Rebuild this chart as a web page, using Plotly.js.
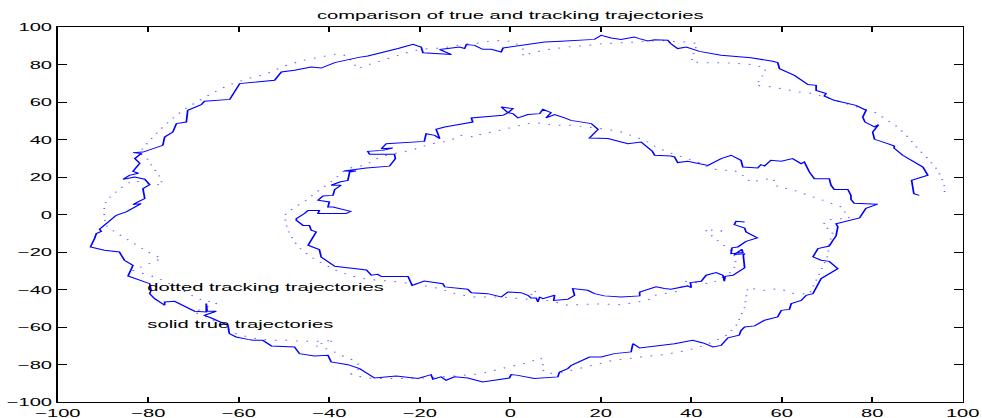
<!DOCTYPE html>
<html>
<head>
<meta charset="utf-8">
<script src="https://cdn.plot.ly/plotly-3.0.1.min.js"></script>
<style>
html,body{margin:0;padding:0;overflow:hidden;background:#fff;width:982px;height:418px}
#wrap{width:560px;height:418px;transform:scale(1.753571,1);transform-origin:0 0}
</style>
</head>
<body>
<div id="wrap"><div id="chart"></div></div>
<script>
// true trajectory [x, y]
const truePath = [
[90.4,10.2],[89.2,11.1],[88.7,18.2],[90.1,19.1],[92.3,20.9],[91.2,25.3],[88.0,29.8],[86.75,31.6],[84.8,35.5],[84.9,36.5],
[83.4,37.8],[80.5,40.1],[80.1,44.0],[81.4,47.9],[80.5,46.7],[78.4,49.3],[77.9,52.0],[78.65,55.6],[76.4,58.2],[71.6,60.9],
[69.4,63.2],[69.8,64.5],[67.6,66.2],[67.6,68.9],[65.8,69.3],[62.8,74.2],[59.5,77.8],[59.1,81.0],[58.0,81.7],[53.2,83.6],
[46.6,84.9],[41.8,87.0],[38.9,89.3],[37.0,88.5],[35.5,91.1],[34.8,92.9],[31.9,93.2],[30.4,92.5],[28.5,93.8],[27.4,94.7],
[24.5,93.4],[22.3,94.1],[20.1,95.6],[18.6,93.4],[11.2,92.4],[7.6,92.0],[-1.6,88.8],[-2.0,86.7],[-4.2,88.1],[-6.1,88.1],
[-7.9,90.2],[-9.7,90.6],[-10.1,88.5],[-11.2,89.3],[-13.8,88.5],[-15.6,88.0],[-13.0,85.3],[-19.3,86.3],[-19.7,89.3],[-21.5,90.8],
[-24.8,88.5],[-27.1,87.0],[-31.5,84.5],[-33.5,83.8],[-38.8,81.0],[-41.8,78.1],[-44.0,78.7],[-47.7,76.9],[-50.6,76.0],[-52.1,71.6],
[-59.8,69.8],[-61.0,65.3],[-62.0,61.4],[-67.6,60.4],[-68.3,58.6],[-71.3,55.6],[-71.6,49.3],[-73.8,48.5],[-74.6,44.0],[-76.4,41.3],
[-76.8,36.9],[-81.2,33.3],[-83.4,33.0],[-81.6,32.5],[-83.0,29.8],[-81.9,27.3],[-83.4,23.0],[-82.2,22.0],[-84.2,20.9],[-85.6,18.8],
[-83.0,20.0],[-80.8,18.8],[-79.7,15.9],[-81.2,13.8],[-80.8,8.5],[-82.3,6.7],[-83.4,5.3],[-81.6,5.8],[-83.0,4.0],[-84.9,1.4],
[-87.1,-0.4],[-89.7,-5.8],[-90.8,-7.9],[-90.4,-9.0],[-91.5,-10.2],[-91.9,-12.9],[-92.8,-17.3],[-89.7,-19.1],[-86.4,-20.0],[-85.3,-24.4],
[-83.4,-27.1],[-84.5,-32.8],[-79.7,-36.9],[-79.4,-40.4],[-79.7,-42.2],[-78.6,-44.9],[-76.4,-48.4],[-76.4,-46.6],[-74.2,-46.3],[-69.8,-51.6],
[-67.2,-52.0],[-67.2,-47.5],[-67.0,-51.6],[-65.0,-51.6],[-67.6,-53.8],[-66.1,-55.2],[-62.4,-59.1],[-62.1,-63.5],[-60.6,-65.3],[-58.0,-66.6],
[-56.9,-67.1],[-54.7,-67.1],[-52.8,-70.1],[-47.7,-70.6],[-46.6,-74.2],[-43.3,-75.4],[-40.3,-75.1],[-39.6,-78.6],[-35.9,-80.1],[-33.3,-82.2],
[-30.0,-87.2],[-25.2,-86.1],[-20.4,-87.5],[-17.5,-85.4],[-17.1,-87.9],[-15.3,-86.6],[-14.2,-88.4],[-12.3,-86.6],[-9.4,-87.2],[-6.1,-89.3],
[-0.2,-87.2],[0.2,-85.4],[1.7,-85.8],[5.3,-87.5],[10.5,-86.6],[10.9,-84.0],[12.7,-82.2],[13.5,-80.4],[16.4,-76.9],[17.5,-76.0],
[20.1,-76.0],[23.0,-74.2],[26.7,-73.3],[27.1,-68.9],[28.6,-71.2],[34.1,-69.8],[36.3,-68.9],[40.3,-67.1],[42.6,-68.5],[44.8,-70.6],
[46.6,-69.8],[48.1,-65.8],[50.6,-64.4],[51.0,-61.8],[51.8,-60.0],[54.0,-59.4],[56.2,-56.4],[59.1,-54.6],[59.9,-51.1],[61.7,-50.6],
[62.1,-47.5],[64.3,-45.8],[65.4,-43.1],[66.9,-42.2],[68.0,-37.8],[68.7,-34.2],[72.4,-28.9],[70.5,-25.0],[68.7,-24.4],[66.9,-22.6],
[68.0,-18.2],[70.5,-16.8],[71.3,-13.8],[72.0,-11.4],[72.4,-6.6],[72.0,-4.9],[77.2,-1.8],[77.9,1.4],[78.6,3.3],[81.2,5.5],
[76.0,6.0],[75.3,8.0],[75.3,10.2],[74.6,13.4],[71.6,13.4],[70.9,15.6],[70.5,19.1],[67.2,19.1],[66.1,22.7],[65.0,28.0],
[64.3,27.1],[62.4,29.8],[59.9,28.4],[57.6,28.9],[56.2,25.9],[55.4,26.6],[54.7,24.8],[51.4,25.3],[51.0,28.9],[48.8,31.6],
[46.6,29.8],[43.7,26.2],[40.0,27.7],[39.2,28.4],[37.0,27.7],[36.3,30.7],[35.5,31.2],[31.9,31.6],[31.4,33.7],[30.4,36.0],
[28.9,38.7],[26.0,37.8],[23.8,39.0],[21.6,40.5],[17.5,40.8],[19.4,45.4],[17.9,48.5],[14.6,49.7],[13.4,50.2],[12.0,51.5],
[9.8,53.3],[7.9,51.5],[9.0,54.3],[7.2,56.1],[6.5,53.8],[3.9,53.3],[1.7,51.5],[0.6,53.8],[-0.5,54.3],[0.6,56.5],
[-2.0,57.3],[-0.5,54.3],[-1.6,52.9],[-8.6,51.5],[-8.3,49.3],[-12.3,47.6],[-14.5,46.7],[-16.4,45.4],[-15.6,40.5],[-16.7,42.2],
[-18.6,43.1],[-19.0,39.0],[-24.1,38.3],[-27.4,37.8],[-28.5,35.1],[-26.0,35.5],[-28.2,34.2],[-31.5,33.7],[-31.1,32.1],[-25.6,32.1],
[-25.4,29.8],[-26.7,25.8],[-31.8,24.8],[-34.4,24.0],[-36.8,23.2],[-34.1,23.2],[-35.5,22.7],[-35.9,18.2],[-37.7,17.3],[-39.6,15.6],
[-37.4,15.6],[-38.8,13.4],[-39.2,10.2],[-41.4,9.9],[-42.5,7.6],[-40.0,6.7],[-40.3,4.0],[-39.2,4.0],[-35.3,1.7],[-36.3,0.5],
[-39.6,0.5],[-42.5,0.5],[-42.2,2.2],[-44.7,2.2],[-45.5,0.5],[-47.3,-2.2],[-47.3,-3.1],[-45.8,-5.8],[-44.4,-5.8],[-44.0,-8.4],
[-42.9,-9.3],[-43.6,-12.0],[-44.0,-14.6],[-44.7,-16.4],[-42.2,-18.7],[-41.8,-22.7],[-38.8,-27.6],[-34.1,-28.9],[-31.8,-29.6],[-30.7,-32.4],
[-29.3,-31.9],[-28.5,-33.1],[-23.4,-33.3],[-22.6,-33.0],[-21.7,-37.8],[-19.0,-35.5],[-14.9,-36.9],[-14.5,-38.6],[-9.4,-39.9],[-8.6,-41.7],
[-5.0,-42.2],[-2.0,-44.0],[-0.5,-41.3],[2.4,-41.7],[3.9,-43.1],[4.6,-44.5],[5.7,-44.5],[6.1,-46.6],[6.5,-44.0],[7.2,-44.9],
[9.8,-43.1],[9.6,-45.8],[12.7,-45.2],[14.2,-43.1],[13.8,-39.5],[17.1,-40.4],[18.6,-42.2],[20.8,-43.4],[24.5,-44.0],[28.6,-43.4],
[28.6,-41.3],[29.7,-40.4],[32.2,-38.6],[34.1,-39.5],[35.5,-39.9],[39.2,-38.1],[40.0,-39.0],[39.8,-36.3],[42.2,-35.6],[43.3,-32.4],
[45.5,-31.0],[47.0,-32.4],[47.3,-35.6],[47.5,-33.0],[49.2,-32.4],[51.8,-28.5],[51.5,-21.8],[51.8,-20.9],[49.5,-21.4],[51.2,-18.6],
[51.4,-20.3],[48.8,-20.9],[49.0,-17.8],[50.3,-17.3],[52.1,-14.3],[54.6,-12.5],[52.1,-9.3],[51.8,-7.2],[49.5,-5.4],[49.9,-3.6],
[51.8,-4.0]
];

// tracking (estimated) trajectory [x, y]
const trackPath = [
[96.0,12.0],[96.0,14.7],[95.4,19.1],[94.5,23.6],[92.3,29.8],[90.1,35.1],[87.9,41.3],[85.6,46.7],[83.4,50.2],[80.5,54.7],
[76.5,57.5],[72.5,60.5],[69.8,62.7],[66.9,64.5],[63.9,65.3],[60.5,67.0],[58.0,68.0],[54.3,68.9],[55.1,71.6],[55.8,74.2],
[56.5,77.8],[54.0,79.9],[50.3,80.5],[47.3,81.0],[42.9,81.0],[40.0,81.3],[40.3,84.0],[40.6,86.7],[41.4,91.1],[39.2,92.0],
[37.4,92.0],[33.0,92.9],[28.2,92.0],[24.5,91.7],[20.1,91.1],[17.1,90.2],[12.4,89.3],[7.2,87.6],[4.3,85.8],[2.8,84.4],
[3.1,87.6],[0.9,92.0],[-2.0,92.9],[-4.2,92.4],[-6.1,92.0],[-7.9,91.1],[-10.1,91.1],[-12.3,89.9],[-15.3,88.8],[-17.5,88.5],
[-19.7,88.1],[-21.9,87.0],[-24.8,84.9],[-27.1,83.1],[-30.0,81.3],[-31.8,79.6],[-33.7,77.8],[-36.0,84.5],[-38.1,85.8],[-42.2,84.0],
[-45.8,82.2],[-49.9,79.2],[-54.3,74.6],[-58.0,72.5],[-62.4,68.9],[-65.4,65.3],[-68.7,60.9],[-71.3,57.3],[-73.8,52.9],[-76.4,47.6],
[-79.0,41.3],[-81.2,35.5],[-81.9,32.5],[-80.5,30.7],[-79.5,27.0],[-78.3,23.0],[-77.3,19.5],[-76.9,15.6],[-83.5,18.0],[-86.2,14.0],
[-88.4,9.5],[-89.7,5.5],[-89.8,1.0],[-89.5,-5.5],[-87.3,-9.5],[-84.5,-13.5],[-81.9,-17.3],[-79.5,-20.8],[-77.0,-23.4],[-83.4,-29.8],
[-81.2,-31.5],[-78.6,-33.3],[-76.4,-35.6],[-73.8,-38.6],[-70.5,-43.1],[-68.7,-44.9],[-67.2,-46.7],[-65.7,-45.8],[-65.0,-47.5],[-70.0,-52.0],
[-67.9,-53.8],[-65.7,-56.4],[-62.4,-61.2],[-60.6,-63.5],[-58.0,-65.3],[-55.1,-66.6],[-52.1,-67.1],[-49.2,-67.1],[-46.2,-67.6],[-42.5,-67.6],
[-38.8,-67.1],[-43.3,-69.8],[-39.6,-72.4],[-37.4,-75.1],[-35.2,-77.2],[-33.7,-79.5],[-33.3,-82.2],[-35.2,-84.9],[-34.4,-86.1],[-32.2,-86.6],
[-30.0,-87.5],[-24.1,-87.5],[-18.2,-87.2],[-12.3,-86.1],[-6.4,-84.9],[-2.0,-82.2],[3.1,-79.5],[6.8,-76.5],[7.2,-79.5],[7.2,-83.0],
[8.3,-84.9],[12.0,-84.0],[17.1,-81.0],[22.7,-77.8],[28.9,-76.0],[34.1,-74.7],[39.2,-72.4],[42.9,-69.8],[45.5,-67.1],[47.7,-64.5],
[49.9,-59.5],[51.0,-54.5],[51.8,-49.5],[52.1,-44.5],[52.5,-39.0],[55.8,-40.5],[59.5,-39.5],[62.4,-42.0],[66.1,-42.5],[69.4,-26.2],
[70.2,-21.8],[70.5,-15.5],[71.3,-9.3],[69.1,-5.8],[69.8,-3.1],[72.0,-2.2],[75.0,-2.2],[74.2,0.5],[73.1,4.0],[70.2,6.7],
[68.0,8.5],[65.8,10.2],[62.1,13.4],[59.1,14.7],[58.0,19.5],[55.4,18.2],[52.9,17.3],[52.5,19.1],[49.5,23.6],[46.6,23.6],
[44.4,24.5],[41.4,28.0],[39.2,29.8],[37.4,31.5],[34.5,33.5],[31.9,36.5],[29.7,39.6],[24.5,44.0],[21.6,45.4],[17.1,46.7],
[13.4,47.6],[9.8,47.6],[5.7,49.0],[3.9,48.5],[0.6,46.7],[-2.0,45.0],[-3.9,44.0],[-6.4,43.1],[-7.5,41.3],[-10.9,42.2],
[-12.3,40.5],[-15.3,38.3],[-17.5,37.8],[-19.7,36.0],[-21.9,34.2],[-24.1,33.3],[-27.4,31.6],[-29.3,30.1],[-30.7,28.0],[-32.2,26.2],
[-34.8,25.3],[-37.0,22.7],[-39.2,18.2],[-41.4,14.7],[-43.3,11.1],[-45.1,7.6],[-47.3,4.0],[-49.2,1.4],[-49.9,-0.5],[-49.5,-5.8],
[-48.8,-10.2],[-47.7,-14.6],[-46.2,-18.7],[-44.0,-22.7],[-41.4,-26.2],[-38.5,-29.8],[-34.8,-33.0],[-31.1,-34.7],[-26.7,-35.5],[-21.5,-36.9],
[-15.6,-39.5],[-11.6,-42.7],[-7.9,-44.0],[-2.0,-44.0],[3.9,-45.2],[5.3,-40.4],[6.8,-45.2],[9.8,-46.6],[12.7,-48.4],[18.6,-47.7],
[24.5,-48.1],[30.4,-45.8],[31.9,-43.1],[34.8,-41.7],[37.0,-41.0],[38.9,-35.6],[40.7,-36.3],[44.4,-36.9],[48.4,-31.5],[49.9,-27.1],
[49.7,-23.5],[49.2,-20.0],[47.7,-17.3],[46.2,-14.6],[44.8,-12.0],[43.7,-9.3],[42.9,-7.9],[44.8,-8.4],[46.6,-9.0],[47.0,-6.6]
];

const xTicks = [-100,-80,-60,-40,-20,0,20,40,60,80,100];
const yTicks = [-100,-80,-60,-40,-20,0,20,40,60,80,100];
const titleText = 'comparison of true and tracking trajectories';
const labelTexts = ['dotted tracking trajectories', 'solid true trajectories'];
const labelPos = [[-80,-40],[-80,-60]];

const FONT = 'Liberation Sans, Arial, Helvetica, sans-serif';
const FS = 11.5;

const traces = [
  {x: truePath.map(p=>p[0]), y: truePath.map(p=>p[1]), mode:'lines', type:'scatter',
   line:{color:'#0000ff', width:1}, hoverinfo:'skip'},
  {x: trackPath.map(p=>p[0]), y: trackPath.map(p=>p[1]), mode:'lines', type:'scatter',
   line:{color:'rgba(0,0,255,0.6)', width:1, dash:'1px,5px'}, hoverinfo:'skip'}
];

function axis(vals){
  return {range:[-100,100], tickmode:'array', tickvals:vals, ticktext:vals.map(v=>v<0?'\u2212'+Math.abs(v):String(v)),
    ticks:'inside', ticklen:5, tickwidth:1, tickcolor:'#000', showline:true, linecolor:'#000', linewidth:1,
    mirror:'ticks', showgrid:false, zeroline:false, fixedrange:true,
    tickfont:{family:FONT, size:FS, color:'#000'}};
}

const layout = {
  width:560, height:418,
  margin:{l:33, r:11, t:27, b:16, pad:0},
  paper_bgcolor:'#fff', plot_bgcolor:'#fff',
  showlegend:false,
  font:{family:FONT, size:FS, color:'#000'},
  title:{text:titleText, x:0.5, xref:'paper', xanchor:'center', y:1-14.5/418, yref:'container', yanchor:'middle',
         font:{family:FONT, size:FS, color:'#000'}},
  xaxis: axis(xTicks),
  yaxis: axis(yTicks),
  annotations: labelTexts.map((t,i)=>({x:labelPos[i][0], y:labelPos[i][1], xref:'x', yref:'y', text:t,
     showarrow:false, xanchor:'left', yanchor:'middle', borderpad:0, xshift:-1.5, yshift:3,
     font:{family:FONT, size:FS, color:'#000'}}))
};

Plotly.newPlot('chart', traces, layout, {displayModeBar:false, staticPlot:true});
</script>
</body>
</html>
